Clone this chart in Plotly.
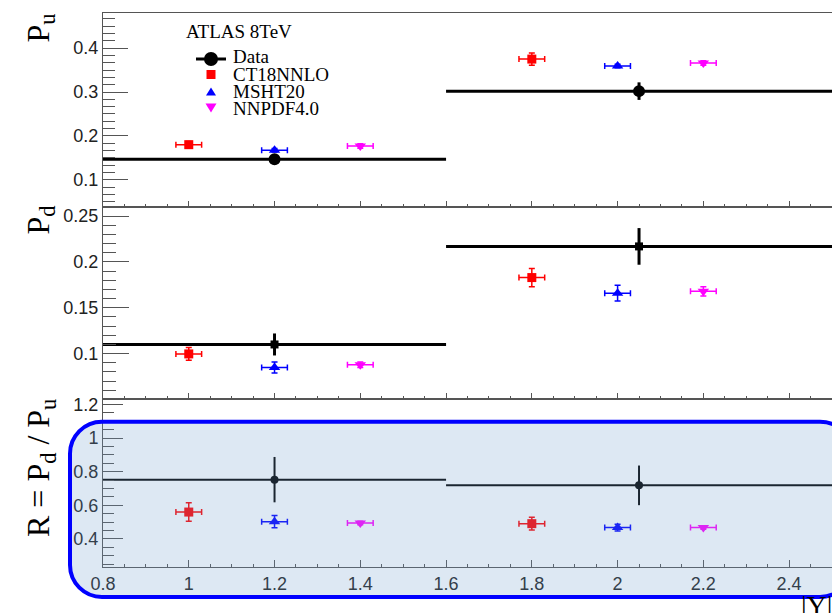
import plotly.graph_objects as go

# ---------------- data ----------------
bin_lo = [0.8, 1.6]
bin_hi = [1.6, 2.5]
data_x = [1.2, 2.05]
ct18_x = [1.0, 1.8]
msht_x = [1.2, 2.0]
nnpdf_x = [1.4, 2.2]
model_xerr = [0.03, 0.03]

# P_u
pu_data = [0.147, 0.302]
pu_data_err = [0.006, 0.02]
pu_ct18 = [0.180, 0.375]
pu_ct18_err = [0.007, 0.014]
pu_msht = [0.1675, 0.359]
pu_msht_err = [0.004, 0.004]
pu_nnpdf = [0.177, 0.366]
pu_nnpdf_err = [0.005, 0.005]

# P_d
pd_data = [0.110, 0.217]
pd_data_err = [0.012, 0.020]
pd_ct18 = [0.0997, 0.183]
pd_ct18_err = [0.007, 0.010]
pd_msht = [0.085, 0.166]
pd_msht_err = [0.006, 0.0085]
pd_nnpdf = [0.088, 0.168]
pd_nnpdf_err = [0.003, 0.005]

# R = P_d / P_u
r_data = [0.753, 0.719]
r_data_err = [0.135, 0.118]
r_ct18 = [0.56, 0.491]
r_ct18_err = [0.055, 0.038]
r_msht = [0.503, 0.468]
r_msht_err = [0.036, 0.02]
r_nnpdf = [0.495, 0.468]
r_nnpdf_err = [0.01, 0.01]

legend_names = ["Data", "CT18NNLO", "MSHT20", "NNPDF4.0"]
colors = {"Data": "#000000", "CT18NNLO": "#ff0000", "MSHT20": "#0000ff", "NNPDF4.0": "#ff00ff"}

# ---------------- geometry ----------------
# The page body has an 8px margin, so the figure is drawn 8px right/down.
OFF = 8
W, H = 840 - OFF, 613 - OFF
PL, PR, PT, PB = 103, 832, 13, 567   # plot area in page pixels
ML, MT = PL - OFF, PT - OFF
MR = W - (PR - OFF)
MB = H - (PB - OFF)
PW = PR - PL
PH = PB - PT


def ypaper(py):
    return (PB - py) / PH


def xpaper(px):
    return (px - PL) / PW


dom_top = [ypaper(207), 1.0]
dom_mid = [ypaper(399), ypaper(207)]
dom_bot = [0.0, ypaper(399)]

fig = go.Figure()

panels = [
    ("x", "y", pu_data, pu_data_err, pu_ct18, pu_ct18_err, pu_msht, pu_msht_err, pu_nnpdf, pu_nnpdf_err, "circle", 12, 3),
    ("x2", "y2", pd_data, pd_data_err, pd_ct18, pd_ct18_err, pd_msht, pd_msht_err, pd_nnpdf, pd_nnpdf_err, "square", 8, 3),
    ("x3", "y3", r_data, r_data_err, r_ct18, r_ct18_err, r_msht, r_msht_err, r_nnpdf, r_nnpdf_err, "circle", 8, 2),
]

for (xa, ya, dv, de, cv, ce, mv, me, nv, ne, dsym, dsize, dthick) in panels:
    models = [
        ("CT18NNLO", ct18_x, cv, ce, "square", 9),
        ("MSHT20", msht_x, mv, me, "triangle-up", 10),
        ("NNPDF4.0", nnpdf_x, nv, ne, "triangle-down", 10),
    ]
    for name, mx, vals, errs, sym, sz in models:
        c = colors[name]
        fig.add_trace(go.Scatter(
            x=mx, y=vals, mode="markers", xaxis=xa, yaxis=ya, showlegend=False, name=name,
            marker=dict(symbol=sym, size=sz, color=c, line=dict(width=0)),
            error_x=dict(type="data", array=model_xerr, color=c, thickness=1.5, width=3),
            error_y=dict(type="data", array=errs, color=c, thickness=1.5, width=3),
        ))
    fig.add_trace(go.Scatter(
        x=data_x, y=dv, mode="markers", xaxis=xa, yaxis=ya, showlegend=False, name="Data",
        marker=dict(symbol=dsym, size=dsize, color="#000000", line=dict(width=0)),
        error_x=dict(type="data", symmetric=False,
                     array=[h - x for h, x in zip(bin_hi, data_x)],
                     arrayminus=[x - l for l, x in zip(bin_lo, data_x)],
                     color="#000000", thickness=dthick, width=0),
        error_y=dict(type="data", array=de, color="#000000", thickness=dthick, width=0),
    ))

axcol = "#555555"
tickfont = dict(family="Liberation Sans, Arial, sans-serif", size=18, color="#222222")

xcommon = dict(range=[0.8, 2.5], ticks="inside", dtick=0.2, tick0=0, showgrid=False, zeroline=False,
               showline=True, linecolor=axcol, linewidth=1, mirror=True, tickcolor=axcol,
               tickfont=tickfont, ticklen=6, automargin=False,
               minor=dict(dtick=0.05, ticks="inside", ticklen=3, tickcolor=axcol, showgrid=False))

ycommon = dict(ticks="inside", showgrid=False, zeroline=False, showline=True, linecolor=axcol,
               linewidth=1, mirror=True, tickcolor=axcol, tickfont=tickfont, automargin=False)

fig.update_layout(
    width=W, height=H,
    margin=dict(l=ML, r=MR, t=MT, b=MB, pad=0),
    paper_bgcolor="white", plot_bgcolor="rgba(0,0,0,0)",
    showlegend=False,
    xaxis=dict(xcommon, anchor="y", showticklabels=False),
    xaxis2=dict(xcommon, anchor="y2", showticklabels=False, matches="x"),
    xaxis3=dict(xcommon, anchor="y3", ticklen=7, matches="x"),
    yaxis=dict(ycommon, domain=dom_top, range=[0.038, 0.48], dtick=0.1, tick0=0, ticklen=25,
               minor=dict(dtick=0.1 / 6, tick0=0, ticks="inside", ticklen=12, tickcolor=axcol, showgrid=False),
               anchor="x"),
    yaxis2=dict(ycommon, domain=dom_mid, range=[0.0505, 0.26], dtick=0.05, tick0=0, ticklen=26,
                minor=dict(dtick=0.01, tick0=0, ticks="inside", ticklen=13, tickcolor=axcol, showgrid=False),
                anchor="x2"),
    yaxis3=dict(ycommon, domain=dom_bot, range=[0.233, 1.233], dtick=0.2, tick0=0, ticklen=20,
                minor=dict(dtick=0.05, tick0=0, ticks="inside", ticklen=11, tickcolor=axcol, showgrid=False),
                anchor="x3"),
)

# ---------------- highlight rounded rectangle (pixel-sized, anchored at plot bottom-left) ----------------
Lx, Rx = 70 - PL, 852 - PL
Ty, By = PB - 421.7, PB - 597
r = 32
k = 0.5523 * r
path = (f"M {Lx + r},{Ty} L {Rx - r},{Ty} "
        f"C {Rx - r + k},{Ty} {Rx},{Ty - r + k} {Rx},{Ty - r} "
        f"L {Rx},{By + r} "
        f"C {Rx},{By + r - k} {Rx - r + k},{By} {Rx - r},{By} "
        f"L {Lx + r},{By} "
        f"C {Lx + r - k},{By} {Lx},{By + r - k} {Lx},{By + r} "
        f"L {Lx},{Ty - r} "
        f"C {Lx},{Ty - r + k} {Lx + r - k},{Ty} {Lx + r},{Ty} Z")
fig.add_shape(type="path", path=path, xref="paper", yref="paper",
              xsizemode="pixel", ysizemode="pixel", xanchor=0, yanchor=0,
              fillcolor="rgba(110,157,204,0.235)", line=dict(color="#0000ff", width=4), layer="above")

# ---------------- manual legend ----------------
serif = "Liberation Serif, Times New Roman, serif"


def pshape(**kw):
    base = dict(xref="paper", yref="paper", xsizemode="pixel", ysizemode="pixel", xanchor=0, yanchor=1)
    base.update(kw)
    fig.add_shape(**base)


def dx(px):
    return px - PL


def dy(py):
    return PT - py


key_x = 211
key_y = [59, 74.5, 91.5, 108]
text_y = [55.5, 73.3, 90.5, 107]

# Data: line + circle
pshape(type="line", x0=dx(196), x1=dx(226), y0=dy(key_y[0]), y1=dy(key_y[0]),
       line=dict(color="#000000", width=3))
pshape(type="circle", x0=dx(key_x - 7), x1=dx(key_x + 7), y0=dy(key_y[0] - 7), y1=dy(key_y[0] + 7),
       fillcolor="#000000", line=dict(width=0))
# CT18: square
pshape(type="rect", x0=dx(key_x - 4.5), x1=dx(key_x + 4.5), y0=dy(key_y[1] - 4.5), y1=dy(key_y[1] + 4.5),
       fillcolor=colors["CT18NNLO"], line=dict(width=0))
# MSHT: triangle up
cy = key_y[2]
pshape(type="path", path=f"M {dx(key_x)},{dy(cy - 4)} L {dx(key_x + 5)},{dy(cy + 4)} L {dx(key_x - 5)},{dy(cy + 4)} Z",
       fillcolor=colors["MSHT20"], line=dict(width=0))
# NNPDF: triangle down
cy = key_y[3]
pshape(type="path", path=f"M {dx(key_x - 5.5)},{dy(cy - 4.5)} L {dx(key_x + 5.5)},{dy(cy - 4.5)} L {dx(key_x)},{dy(cy + 4.5)} Z",
       fillcolor=colors["NNPDF4.0"], line=dict(width=0))

annotations = []
annotations.append(dict(text="ATLAS 8TeV", x=xpaper(184), y=ypaper(31), xref="paper", yref="paper",
                        xanchor="left", yanchor="middle", showarrow=False,
                        font=dict(family=serif, size=19, color="#000000")))
for name, ty in zip(legend_names, text_y):
    annotations.append(dict(text=name, x=xpaper(231), y=ypaper(ty + 1), xref="paper", yref="paper",
                            xanchor="left", yanchor="middle", showarrow=False,
                            font=dict(family=serif, size=19, color="#000000")))

# y titles
titles = [("P<sub>u</sub>", 12), ("P<sub>d</sub>", 204), ("R = P<sub>d</sub> / P<sub>u</sub>", 397)]
for t, top in titles:
    annotations.append(dict(text=t, x=xpaper(40), y=ypaper(top), xref="paper", yref="paper",
                            xanchor="center", yanchor="top", textangle=-90, showarrow=False,
                            font=dict(family=serif, size=32, color="#000000")))
# x title
annotations.append(dict(text="|Y|", x=xpaper(834), y=ypaper(588), xref="paper", yref="paper",
                        xanchor="right", yanchor="top", showarrow=False,
                        font=dict(family=serif, size=28, color="#000000")))

fig.update_layout(annotations=annotations)

fig.write_html("out.html")
